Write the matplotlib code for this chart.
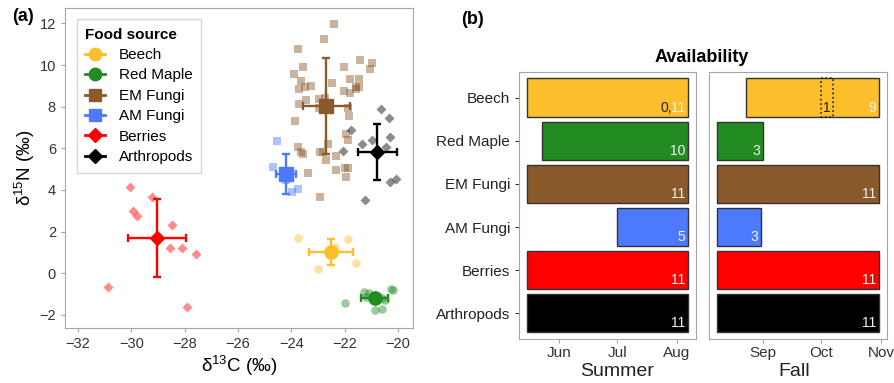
import matplotlib
matplotlib.use("Agg")
import matplotlib.pyplot as plt
from matplotlib.lines import Line2D
from matplotlib.patches import Rectangle

plt.rcParams['font.family'] = ['Liberation Sans', 'DejaVu Sans']
plt.rcParams['mathtext.default'] = 'regular'

# ---- data ----
food = ["Beech", "Red Maple", "EM Fungi", "AM Fungi", "Berries", "Arthropods"]
colors = ["#FCBF2B", "#228B22", "#8B5A2B", "#4D79FF", "#FF0000", "#000000"]
markers = ["o", "o", "s", "s", "D", "D"]

beech_x = [-23.77, -21.88, -23.02, -21.56, -22.38]
beech_y = [1.68, 1.63, 0.20, 0.48, 1.25]
maple_x = [-21.99, -21.28, -21.10, -20.28, -20.20, -20.86, -20.61, -20.62, -21.19, -20.50]
maple_y = [-1.41, -0.88, -0.95, -0.75, -0.80, -1.76, -1.73, -1.20, -1.12, -1.30]
em_x = [-22.39, -22.78, -23.75, -21.41, -20.96, -21.04, -23.56, -23.89, -22.03, -23.63,
        -23.25, -22.48, -21.81, -21.46, -21.46, -21.59, -23.73, -23.50, -22.01, -21.81,
        -21.56, -23.46, -23.73, -22.96, -22.75, -22.96, -21.88, -21.84, -23.85, -21.96,
        -21.88, -23.75, -23.65, -23.56, -22.94, -22.81, -22.63, -22.31, -22.71, -22.00,
        -21.88, -22.31, -21.96, -23.38, -22.94]
em_y = [11.95, 11.23, 10.77, 10.24, 10.11, 9.79, 9.92, 9.57, 9.92, 9.23,
        8.99, 9.12, 9.31, 9.33, 8.93, 8.93, 8.86, 8.93, 8.77, 8.67,
        8.83, 8.32, 8.11, 8.37, 8.40, 7.92, 7.92, 7.55, 7.31, 6.69,
        6.40, 6.08, 5.84, 5.73, 5.84, 5.84, 6.21, 5.63, 5.44, 5.04,
        5.04, 4.96, 4.61, 4.80, 3.68]
am_x = [-24.53, -24.69, -23.98, -23.75, -24.20]
am_y = [6.37, 5.12, 3.90, 4.03, 4.50]
berry_x = [-30.05, -29.94, -29.80, -29.21, -28.48, -28.54, -28.10, -27.58, -30.86, -27.93]
berry_y = [4.13, 3.01, 2.75, 3.68, 2.32, 1.20, 1.20, 0.93, -0.67, -1.62]
arth_x = [-20.63, -20.35, -21.75, -20.96, -21.35, -20.29, -20.44, -22.06, -20.31, -20.09, -21.25]
arth_y = [7.87, 7.45, 6.88, 6.40, 6.20, 6.53, 6.08, 5.89, 4.37, 4.51, 3.52]

raw_x = [beech_x, maple_x, em_x, am_x, berry_x, arth_x]
raw_y = [beech_y, maple_y, em_y, am_y, berry_y, arth_y]

mean_x = [-22.52, -20.88, -22.69, -24.19, -29.04, -20.78]
mean_y = [1.04, -1.19, 8.03, 4.77, 1.70, 5.84]
sd_x = [0.83, 0.50, 0.89, 0.38, 1.09, 0.74]
sd_y = [0.62, 0.20, 2.32, 0.98, 1.86, 1.34]

# availability, day of year
summer_start = [135, 143, 135, 182, 135, 135]
summer_end = [219, 219, 219, 219, 219, 219]
fall_start = [235, 220, 220, 220, 220, 220]
fall_end = [304, 244, 304, 243, 304, 304]
summer_n = ["11", "10", "11", "5", "11", "11"]
fall_n = ["9", "3", "11", "3", "11", "11"]
summer_ticks = [152, 182, 213]
summer_labels = ["Jun", "Jul", "Aug"]
fall_ticks = [244, 274, 305]
fall_labels = ["Sep", "Oct", "Nov"]

border = "#A6A6A6"

fig = plt.figure(figsize=(8.94, 3.83), dpi=100)

# ---- panel (a) ----
ax = fig.add_axes([0.0727, 0.1436, 0.3893, 0.8354])
for i in range(len(food)):
    ms = 38 if markers[i] != "D" else 26
    ax.scatter(raw_x[i], raw_y[i], s=ms, marker=markers[i], color=colors[i],
               alpha=0.45, linewidths=0, zorder=2)
for i in range(len(food)):
    mms = 9.5 if markers[i] != "D" else 7.5
    ax.errorbar(mean_x[i], mean_y[i], xerr=sd_x[i], yerr=sd_y[i], fmt=markers[i],
                color=colors[i], markersize=mms, elinewidth=1.7, capsize=3,
                capthick=1.7, zorder=3)

ax.set_xlim(-32.49, -19.44)
ax.set_ylim(-2.63, 12.74)
ax.set_xticks([-32, -30, -28, -26, -24, -22, -20])
ax.set_yticks([-2, 0, 2, 4, 6, 8, 10, 12])
ax.set_xticklabels(["\u221232", "\u221230", "\u221228", "\u221226", "\u221224", "\u221222", "\u221220"])
ax.set_yticklabels(["\u22122", "0", "2", "4", "6", "8", "10", "12"])
ax.tick_params(labelsize=10.5, colors="#333333", length=3, color=border)
for s in ax.spines.values():
    s.set_color(border)
ax.set_xlabel("δ$^{13}$C (‰)", fontsize=13.5, labelpad=2)
ax.set_ylabel("δ$^{15}$N (‰)", fontsize=13.5, labelpad=2)

handles = [Line2D([0], [0], color=colors[i], marker=markers[i],
                  markersize=9 if markers[i] != "D" else 7, lw=2) for i in range(len(food))]
leg = ax.legend(handles, food, loc="upper left", bbox_to_anchor=(0.034, 0.965),
                borderaxespad=0,
                title="Food source", title_fontproperties={"weight": "bold", "size": 11},
                fontsize=11, frameon=True, fancybox=False, edgecolor="#CCCCCC",
                labelspacing=0.42, handlelength=1.3, handletextpad=0.9,
                borderpad=0.55, alignment="left")
leg.get_frame().set_linewidth(1.0)

# ---- panel (b) ----
axs = fig.add_axes([0.5805, 0.115, 0.198, 0.697])
axf = fig.add_axes([0.793, 0.115, 0.199, 0.697])

for a, start, end, n, ticks, labs, lim in [
        (axs, summer_start, summer_end, summer_n, summer_ticks, summer_labels, (131, 223)),
        (axf, fall_start, fall_end, fall_n, fall_ticks, fall_labels, (216, 308))]:
    for i in range(len(food)):
        a.barh(i, end[i] - start[i], left=start[i], height=0.9, color=colors[i],
               edgecolor="#333333", linewidth=1.0)
        a.annotate(n[i], xy=(end[i], i + 0.45), xytext=(-2, 1.5), textcoords="offset points",
                   ha="right", va="bottom", fontsize=10, color="#F2F2F2")
    a.set_xlim(*lim)
    a.set_ylim(5.6, -0.6)
    a.set_xticks(ticks)
    a.set_xticklabels(labs)
    a.tick_params(axis="x", labelsize=11, colors="#333333", length=3, color=border, pad=2)
    for s in a.spines.values():
        s.set_color(border)

axs.set_yticks(range(len(food)))
axs.set_yticklabels(food)
axs.tick_params(axis="y", labelsize=11, colors="#222222", length=3, color="#333333")
axf.set_yticks([])

# Beech extra labels
axs.annotate("0,", xy=(summer_end[0], 0.45), xytext=(-12, 1.5), textcoords="offset points",
             ha="right", va="bottom", fontsize=10, color="#222222")
axf.add_patch(Rectangle((274, -0.45), 6, 0.9, fill=False, linestyle=":",
                        edgecolor="#222222", linewidth=1.2))
axf.annotate("1", xy=(277, 0.45), xytext=(0, 1.5), textcoords="offset points",
             ha="center", va="bottom", fontsize=10, color="#222222")

fig.text(0.690, 0.030, "Summer", ha="center", va="center", fontsize=14, color="#222222")
fig.text(0.888, 0.030, "Fall", ha="center", va="center", fontsize=14, color="#222222")
fig.text(0.785, 0.851, "Availability", ha="center", va="center", fontsize=13, weight="bold")
fig.text(0.026, 0.956, "(a)", ha="center", va="center", fontsize=13, weight="bold")
fig.text(0.529, 0.948, "(b)", ha="center", va="center", fontsize=13, weight="bold")

fig.savefig("out.png", dpi=100)
